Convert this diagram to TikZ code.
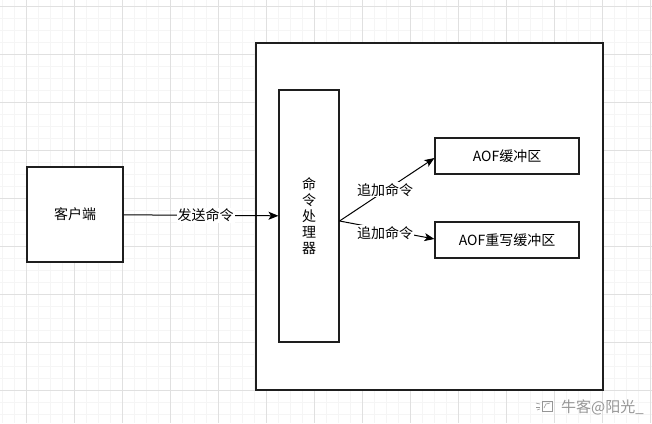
\documentclass[tikz,border=0pt]{standalone}
\usepackage{fontspec}
\setmainfont{Noto Sans CJK SC}
\usetikzlibrary{arrows.meta}
\definecolor{gridminor}{RGB}{245,245,245}
\definecolor{gridmajor}{RGB}{224,224,224}
\definecolor{edge}{RGB}{30,30,30}
\definecolor{wm}{RGB}{150,150,150}
\begin{document}
\begin{tikzpicture}[x=1pt,y=-1pt,
  font=\fontsize{14}{16}\selectfont,
  box/.style={draw=edge, line width=1.1pt, fill=white, inner sep=0pt},
  conn/.style={draw=black, line width=1pt, -{Stealth[length=10pt,width=8pt,inset=2.5pt]}},
  lbl/.style={fill=white, inner sep=1pt},
  minorline/.style={draw=gridminor, line width=0.8pt},
  majorline/.style={draw=gridmajor, line width=0.9pt}]
\useasboundingbox (0,0) rectangle (652,423);
\fill[white] (0,0) rectangle (652,423);
% grid
\foreach \x in {2,14,...,650} \draw[minorline] (\x,0) -- (\x,423);
\foreach \y in {6,18,...,422} \draw[minorline] (0,\y) -- (652,\y);
\foreach \x in {26,74,...,650} \draw[majorline] (\x,0) -- (\x,423);
\foreach \y in {6,54,...,422} \draw[majorline] (0,\y) -- (652,\y);
% boxes
\node[box, minimum width=96pt, minimum height=95pt] (client) at (75,214.5) {客户端};
\node[box, minimum width=347pt, minimum height=347pt] (server) at (429.5,216.5) {};
\node[box, minimum width=60pt, minimum height=252pt, align=center, font=\fontsize{14}{16}\selectfont] (proc) at (309,216) {命\\令\\处\\理\\器};
\node[box, minimum width=144pt, minimum height=36pt] (aof) at (507,156) {AOF缓冲区};
\node[box, minimum width=144pt, minimum height=36pt] (aofr) at (507,240) {AOF重写缓冲区};
\coordinate (pout) at ([yshift=-5pt]proc.east);
% connectors
\draw[conn] (client) -- node[lbl, pos=0.53] {发送命令} (proc);
\draw[conn] (pout) -- node[lbl, pos=0.48, yshift=1pt] {追加命令} ([yshift=-2pt]aof.west);
\draw[conn] (pout) -- node[lbl, pos=0.48, yshift=-3pt] {追加命令} ([yshift=1pt]aofr.west);
% watermark
\node[text=wm, font=\fontsize{15}{16}\selectfont, anchor=east, inner sep=0pt] (wmark) at (644,407) {牛客@阳光\_};
\begin{scope}[draw=wm, line width=0.6pt]
  \draw (542,401) rectangle (552,411);
  \draw (544,408) -- (546,404) -- (550,403);
  \draw (536,403) -- (540,404);
  \draw (536,407) -- (540,407);
  \draw (537,410) -- (540,409);
\end{scope}
\end{tikzpicture}
\end{document}
